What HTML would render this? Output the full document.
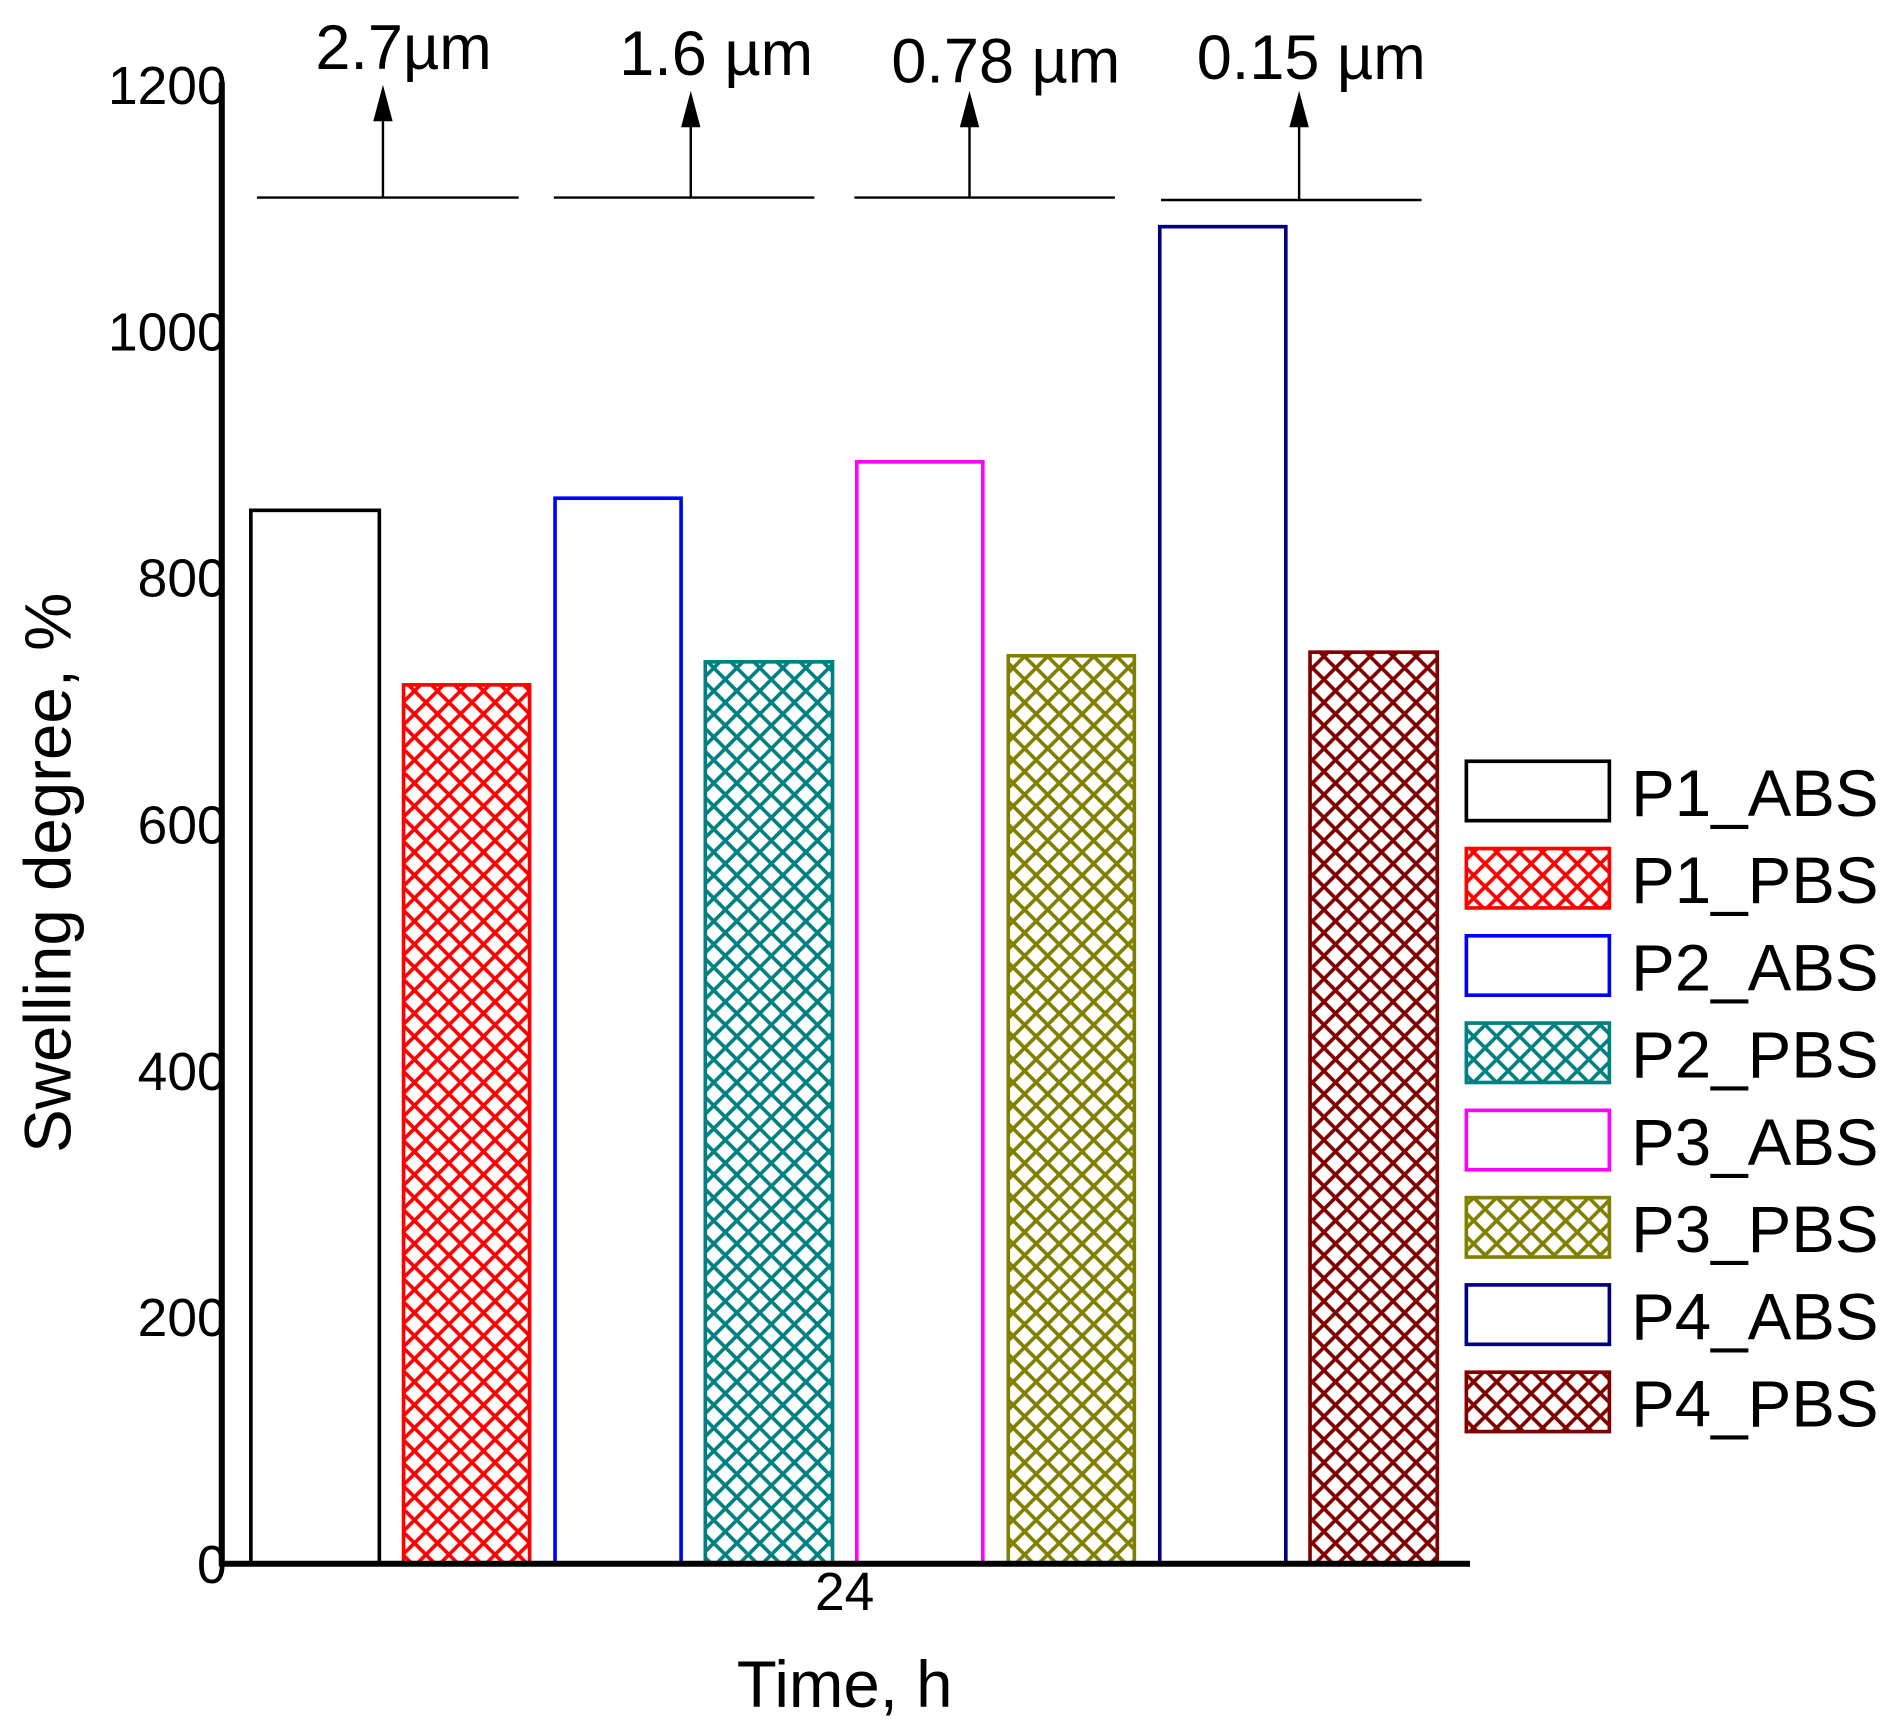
<!DOCTYPE html>
<html><head><meta charset="utf-8"><style>html,body{margin:0;padding:0;background:#fff}svg{display:block}</style></head>
<body>
<svg width="1899" height="1731" viewBox="0 0 1567 1428" preserveAspectRatio="none" xmlns="http://www.w3.org/2000/svg" font-family="Liberation Sans, Arial, sans-serif">
<defs>
<pattern id="hr" width="19" height="19" patternUnits="userSpaceOnUse"><path d="M0,0L19,19M19,0L0,19" stroke="#ff0000" stroke-width="3"/></pattern>
<pattern id="ht" width="19" height="19" patternUnits="userSpaceOnUse"><path d="M0,0L19,19M19,0L0,19" stroke="#008080" stroke-width="3"/></pattern>
<pattern id="ho" width="19" height="19" patternUnits="userSpaceOnUse"><path d="M0,0L19,19M19,0L0,19" stroke="#808000" stroke-width="3"/></pattern>
<pattern id="hd" width="19" height="19" patternUnits="userSpaceOnUse"><path d="M0,0L19,19M19,0L0,19" stroke="#800000" stroke-width="3"/></pattern>
</defs>
<rect width="1567" height="1428" fill="#fff"/>
<g stroke-width="3">
<rect x="207" y="421" width="106" height="869" fill="none" stroke="#000"/>
<rect x="333" y="565" width="104" height="725" fill="url(#hr)" stroke="#ff0000"/>
<rect x="458" y="411" width="104" height="879" fill="none" stroke="#0000ff"/>
<rect x="582" y="546" width="105" height="744" fill="url(#ht)" stroke="#008080"/>
<rect x="707" y="381" width="104" height="909" fill="none" stroke="#ff00ff"/>
<rect x="832" y="541" width="104" height="749" fill="url(#ho)" stroke="#808000"/>
<rect x="957" y="187" width="104" height="1103" fill="none" stroke="#000080"/>
<rect x="1081" y="538" width="105" height="752" fill="url(#hd)" stroke="#800000"/>
</g>
<line x1="183" y1="68" x2="183" y2="1292" stroke="#000" stroke-width="5"/>
<line x1="181" y1="1290" x2="1213" y2="1290" stroke="#000" stroke-width="5"/>
<g font-size="44" text-anchor="end" fill="#000">
<text x="187" y="1306">0</text><text x="187" y="1102">200</text><text x="187" y="899">400</text>
<text x="187" y="696">600</text><text x="187" y="492">800</text><text x="187" y="289">1000</text><text x="187" y="86">1200</text>
</g>
<text x="697" y="1328" font-size="44" text-anchor="middle">24</text>
<text x="697" y="1408" font-size="54" text-anchor="middle">Time, h</text>
<text transform="translate(58,720) rotate(-90)" font-size="54" text-anchor="middle">Swelling degree, %</text>
<g stroke="#000" stroke-width="2">
<line x1="212" y1="163" x2="428" y2="163"/><line x1="316" y1="163" x2="316" y2="90"/>
<line x1="457" y1="163" x2="672" y2="163"/><line x1="570" y1="163" x2="570" y2="95"/>
<line x1="705" y1="163" x2="920" y2="163"/><line x1="800" y1="163" x2="800" y2="95"/>
<line x1="958" y1="165" x2="1173" y2="165"/><line x1="1072" y1="165" x2="1072" y2="95"/>
</g>
<g fill="#000">
<polygon points="316,70 308,100 324,100"/><polygon points="570,75 562,105 578,105"/>
<polygon points="800,75 792,105 808,105"/><polygon points="1072,75 1064,105 1080,105"/>
</g>
<g font-size="52" text-anchor="middle">
<text x="333" y="57">2.7µm</text><text x="591" y="62">1.6 µm</text>
<text x="830" y="68">0.78 µm</text><text x="1082" y="65">0.15 µm</text>
</g>
<g stroke-width="3">
<rect x="1210" y="628" width="118" height="49" fill="none" stroke="#000"/>
<rect x="1210" y="700" width="118" height="49" fill="url(#hr)" stroke="#ff0000"/>
<rect x="1210" y="772" width="118" height="49" fill="none" stroke="#0000ff"/>
<rect x="1210" y="844" width="118" height="49" fill="url(#ht)" stroke="#008080"/>
<rect x="1210" y="916" width="118" height="49" fill="none" stroke="#ff00ff"/>
<rect x="1210" y="988" width="118" height="49" fill="url(#ho)" stroke="#808000"/>
<rect x="1210" y="1060" width="118" height="49" fill="none" stroke="#000080"/>
<rect x="1210" y="1132" width="118" height="49" fill="url(#hd)" stroke="#800000"/>
</g>
<g font-size="54">
<text x="1346" y="673">P1_ABS</text><text x="1346" y="745">P1_PBS</text>
<text x="1346" y="817">P2_ABS</text><text x="1346" y="889">P2_PBS</text>
<text x="1346" y="961">P3_ABS</text><text x="1346" y="1033">P3_PBS</text>
<text x="1346" y="1105">P4_ABS</text><text x="1346" y="1177">P4_PBS</text>
</g>
</svg>
</body></html>
